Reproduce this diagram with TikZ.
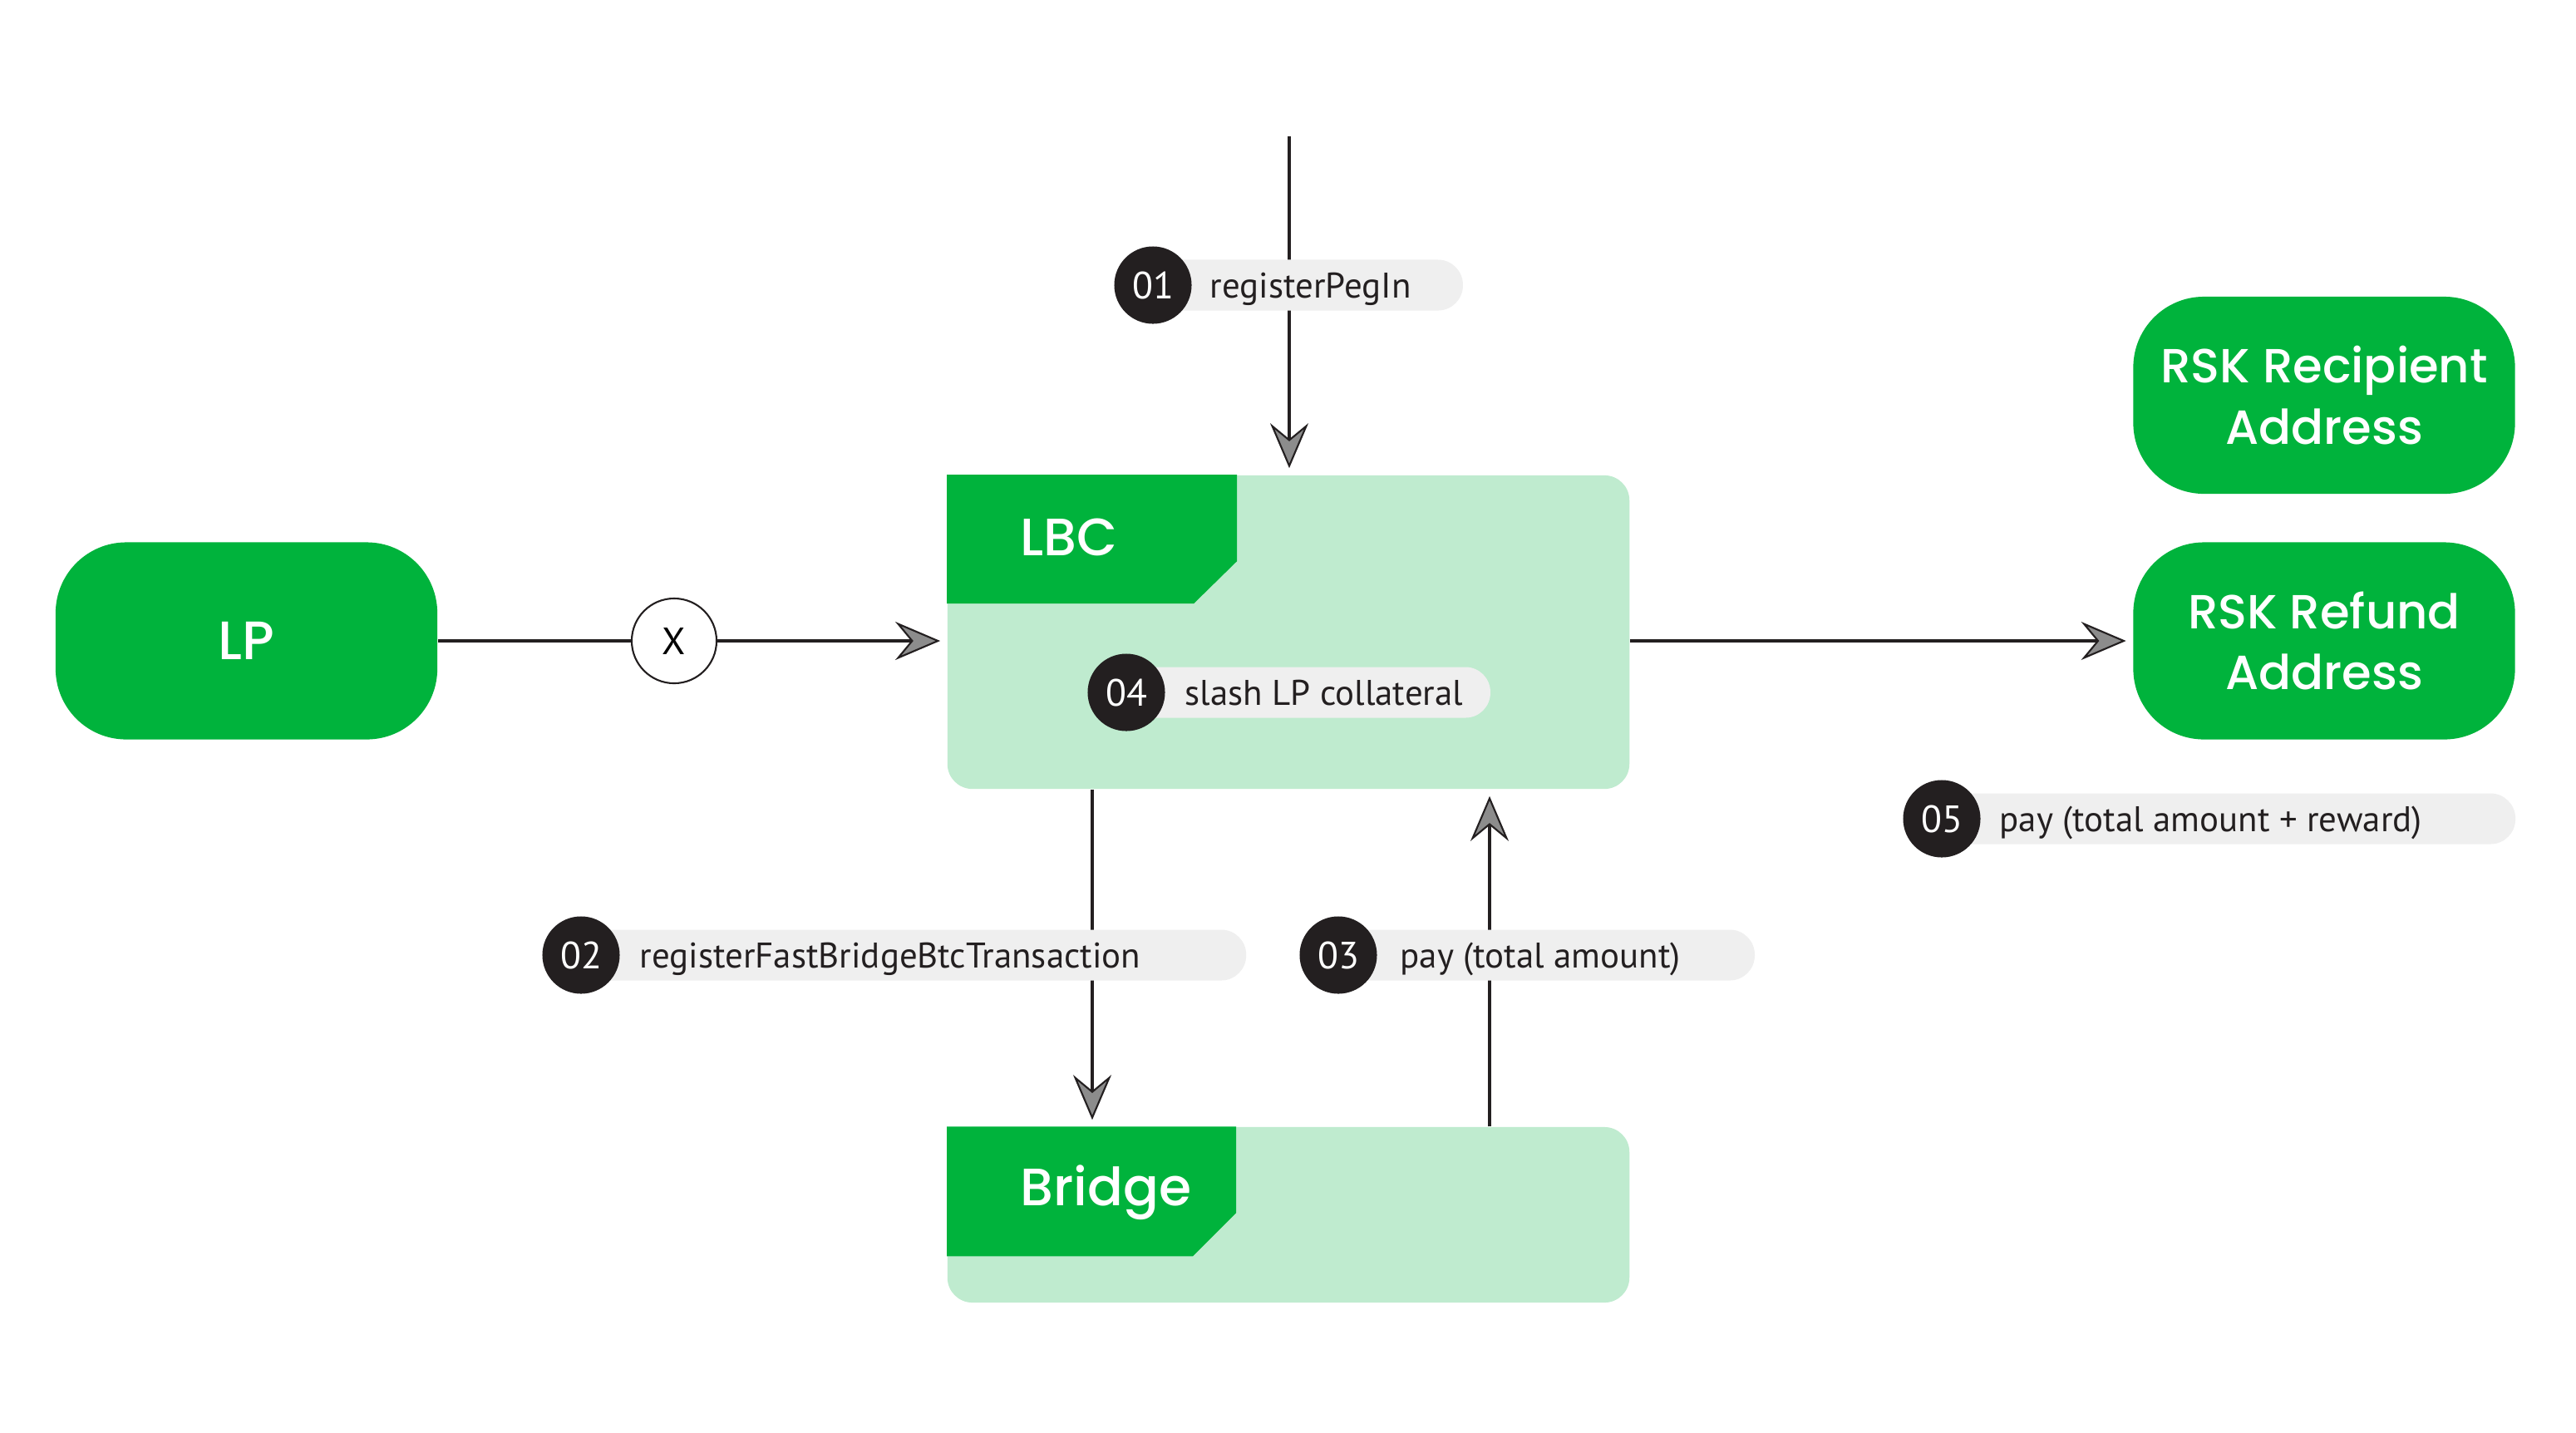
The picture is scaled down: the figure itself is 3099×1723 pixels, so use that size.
\documentclass[tikz,border=0pt]{standalone}
\usepackage{fontspec}
\setmainfont{PT Sans}
\newfontfamily\titlefont{Poppins}[UprightFont={* Medium}]
\usetikzlibrary{arrows.meta}
\definecolor{rskgreen}{HTML}{00B33C}
\definecolor{lightgreen}{HTML}{BFEBCF}
\definecolor{pillgray}{HTML}{EFEFEF}
\definecolor{darkc}{HTML}{231F20}
\newcommand\labsize{\fontsize{12.2}{15}\selectfont}
\begin{document}
\begin{tikzpicture}[x=0.01cm,y=-0.01cm,
  box/.style={fill=rskgreen, rounded corners=0.85cm, minimum width=4.59cm, minimum height=2.37cm,
    align=center, text=white, inner sep=0, font=\titlefont\fontsize{16.4}{21}\selectfont},
  panel/.style={fill=lightgreen, rounded corners=0.3cm, minimum width=8.2cm, inner sep=0},
  conn/.style={draw=darkc, line width=1pt},
  arr/.style={conn, -{Stealth[length=5.4mm,width=4.6mm,inset=1.9mm,fill=black!45,line width=0.6pt]}, shorten >=0.8mm},
  pill/.style={fill=pillgray, rounded corners=0.3cm, minimum height=0.61cm, inner sep=0, anchor=west},
  num/.style={circle, fill=darkc, minimum size=0.93cm, inner sep=0, text=white, font=\fontsize{13}{15}\selectfont},
  lab/.style={anchor=base west, inner sep=0, font=\labsize, text=darkc},
  title/.style={anchor=base west, text=white, inner sep=0, font=\titlefont\fontsize{18}{22}\selectfont},
]
\useasboundingbox[fill=white] (0,0) rectangle (3099,1723);

% main boxes
\node[box, font=\titlefont\fontsize{18.5}{22}\selectfont] (lp) at (296.5,771) {LP};
\node[box] (rec) at (2796,475.5) {RSK Recipient\\Address};
\node[box] (ref) at (2796,771) {RSK Refund\\Address};

\node[panel, minimum height=3.77cm] (lbc) at (1550,760.5) {};
\node[panel, minimum height=2.11cm] (bridge) at (1550,1461.5) {};
\fill[rskgreen] (lbc.north west) -- ++(349,0) -- ++(0,104) -- ++(-52,51) -- ++(-297,0) -- cycle;
\fill[rskgreen] (bridge.north west) -- ++(348,0) -- ++(0,104) -- ++(-52,52) -- ++(-296,0) -- cycle;
\node[title] (lbct) at (1227,668) {LBC};
\node[title] (bridget) at (1227,1450) {Bridge};

\node[circle, draw=darkc, line width=0.6pt, fill=white, minimum size=1.02cm, inner sep=0, font=\fontsize{13}{15}\selectfont] (x) at (811,771) {X};

% connectors
\coordinate (topstart) at (1551,164);
\coordinate (c2) at (1314,0);
\coordinate (c3) at (1792,0);
\draw[arr] (topstart) -- (topstart |- lbc.north);
\draw[conn] (lp.east) -- (x.west);
\draw[arr] (x.east) -- (x.east -| lbc.west);
\draw[arr] (lbc.south -| c2) -- (bridge.north -| c2);
\draw[arr] (bridge.north -| c3) -- (lbc.south -| c3);
\draw[arr] (ref.west -| lbc.east) -- (ref.west);

% labels
\node[pill, minimum width=3.72cm] (p1) at (1387,343) {};
\node[num] (n1) at (1387,343) {01};
\node[lab] (t1) at (1455,358) {registerPegIn};

\node[pill, minimum width=7.99cm] (p2) at (699,1149) {};
\node[num] (n2) at (699,1149) {02};
\node[lab] (t2) at (769,1164) {registerFastBridgeBtcTransaction};

\node[pill, minimum width=5.00cm] (p3) at (1610,1149) {};
\node[num] (n3) at (1610,1149) {03};
\node[lab] (t3) at (1684,1164) {pay (total amount)};

\node[pill, minimum width=4.37cm] (p4) at (1355,833) {};
\node[num] (n4) at (1355,833) {04};
\node[lab] (t4) at (1425,848) {slash LP collateral};

\node[pill, minimum width=6.89cm] (p5) at (2336,985) {};
\node[num] (n5) at (2336,985) {05};
\node[lab] (t5) at (2405,1000) {pay (total amount + reward)};
\end{tikzpicture}
\end{document}
